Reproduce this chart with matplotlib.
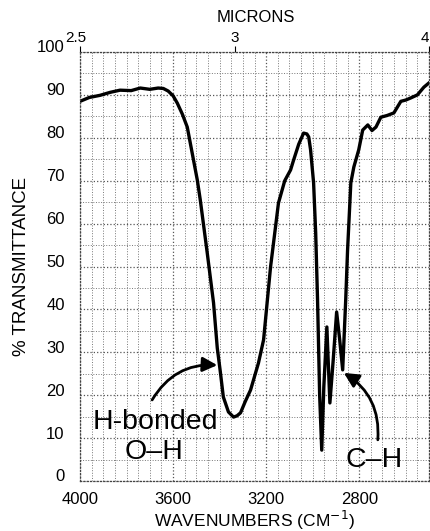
import matplotlib
matplotlib.use("Agg")
import matplotlib.pyplot as plt
import matplotlib.transforms as mtransforms
from matplotlib.ticker import MultipleLocator

plt.rcParams['font.family'] = ['Liberation Sans', 'DejaVu Sans']

# IR spectrum (wavenumber in cm-1, % transmittance)
wavenumber = [4000, 3960, 3914, 3870, 3828, 3780, 3741, 3700, 3664, 3642, 3621,
              3600, 3582, 3560, 3539, 3496, 3483, 3453, 3426, 3410, 3397, 3384,
              3362, 3340, 3325, 3310, 3290, 3267, 3233, 3211, 3181, 3147, 3120,
              3095, 3082, 3060, 3039, 3025, 3017, 3009, 2996, 2987, 2979, 2970,
              2961, 2952, 2939, 2926, 2912, 2897, 2884, 2871, 2858, 2850, 2836,
              2823, 2802, 2785, 2763, 2745, 2728, 2707, 2680, 2651, 2621, 2600,
              2578, 2550, 2522, 2500]
transmittance = [88.5, 89.4, 89.9, 90.6, 91.1, 91.0, 91.6, 91.3, 91.6, 91.5, 90.9,
                 89.8, 88.1, 85.5, 82.5, 70.2, 65.5, 53.1, 41.5, 31.0, 25.5, 19.6,
                 16.1, 14.9, 15.2, 15.9, 18.5, 21.2, 27.5, 32.9, 49.9, 64.8, 70.0,
                 72.5, 74.8, 78.5, 81.1, 80.9, 80.2, 77.2, 69.5, 57.8, 42.2, 20.0,
                 7.2, 22.0, 35.9, 18.2, 28.0, 39.4, 33.0, 25.9, 42.2, 53.8, 69.5,
                 73.2, 77.2, 81.8, 83.0, 81.7, 82.5, 84.8, 85.2, 85.8, 88.5, 88.8,
                 89.3, 90.0, 91.8, 92.8]

x_ticks = [4000, 3600, 3200, 2800]
y_ticks = [0, 10, 20, 30, 40, 50, 60, 70, 80, 90, 100]
micron_ticks = [2.5, 3, 4]
micron_labels = ["2.5", "3", "4"]

fig = plt.figure(figsize=(4.31, 5.31), dpi=100)
ax = fig.add_axes([80 / 431, 1 - 481 / 531, 349 / 431, 429 / 531])

ax.plot(wavenumber, transmittance, color="black", lw=2.4, solid_joinstyle="round")

ax.set_xlim(4000, 2500)
ax.set_ylim(0, 100)
ax.set_xticks(x_ticks)
ax.set_yticks(y_ticks)
ax.xaxis.set_minor_locator(MultipleLocator(50))
ax.yaxis.set_minor_locator(MultipleLocator(5))
ax.grid(which="major", color="#555555", ls=":", lw=0.9)
ax.grid(which="minor", color="#777777", ls=":", lw=0.7)
ax.tick_params(which="both", length=0)
ax.tick_params(axis="x", labelsize=12, pad=8)
ax.tick_params(axis="y", labelsize=12, pad=11)
for sp in ax.spines.values():
    sp.set_linestyle(":")
    sp.set_color("#444444")
    sp.set_linewidth(0.9)

# y labels sit a little above their grid lines in the original
shift = mtransforms.ScaledTranslation(0, 4 / 72, fig.dpi_scale_trans)
for lab in ax.get_yticklabels():
    lab.set_transform(lab.get_transform() + shift)

ax.set_xlabel("WAVENUMBERS (CM$^{-1}$)", fontsize=12.5, labelpad=1)
ax.set_ylabel("% TRANSMITTANCE", fontsize=13.5, labelpad=5)

top = ax.secondary_xaxis("top", functions=(lambda w: 10000 / w, lambda m: 10000 / m))
top.set_xticks(micron_ticks)
top.set_xticklabels(micron_labels)
top.tick_params(length=4, width=0.8, labelsize=11, pad=1)
top.spines["top"].set_visible(False)
left_nudge = mtransforms.ScaledTranslation(-3 / 72, 0, fig.dpi_scale_trans)
top.get_xticklabels()[0].set_transform(top.get_xticklabels()[0].get_transform() + left_nudge)
top.get_xticklabels()[-1].set_transform(top.get_xticklabels()[-1].get_transform() + left_nudge)
fig.text(256 / 431, 1 - 17 / 531, "MICRONS", ha="center", va="center", fontsize=12)

# band annotations
ax.text(3677, 13.8, "H-bonded", ha="center", va="center", fontsize=20.5)
ax.text(3681, 6.8, "O\u2013H", ha="center", va="center", fontsize=20.5)
ax.text(2737, 4.9, "C\u2013H", ha="center", va="center", fontsize=20.5)
arrow = dict(arrowstyle="-|>", color="black", lw=2, mutation_scale=22, shrinkA=0, shrinkB=0)
ax.annotate("", xy=(3410, 27), xytext=(3690, 18.9),
            arrowprops=dict(arrow, connectionstyle="arc3,rad=-0.3"))
ax.annotate("", xy=(2866, 25.2), xytext=(2720, 9.6),
            arrowprops=dict(arrow, connectionstyle="arc3,rad=0.3"))

fig.savefig("out.png", dpi=100)
